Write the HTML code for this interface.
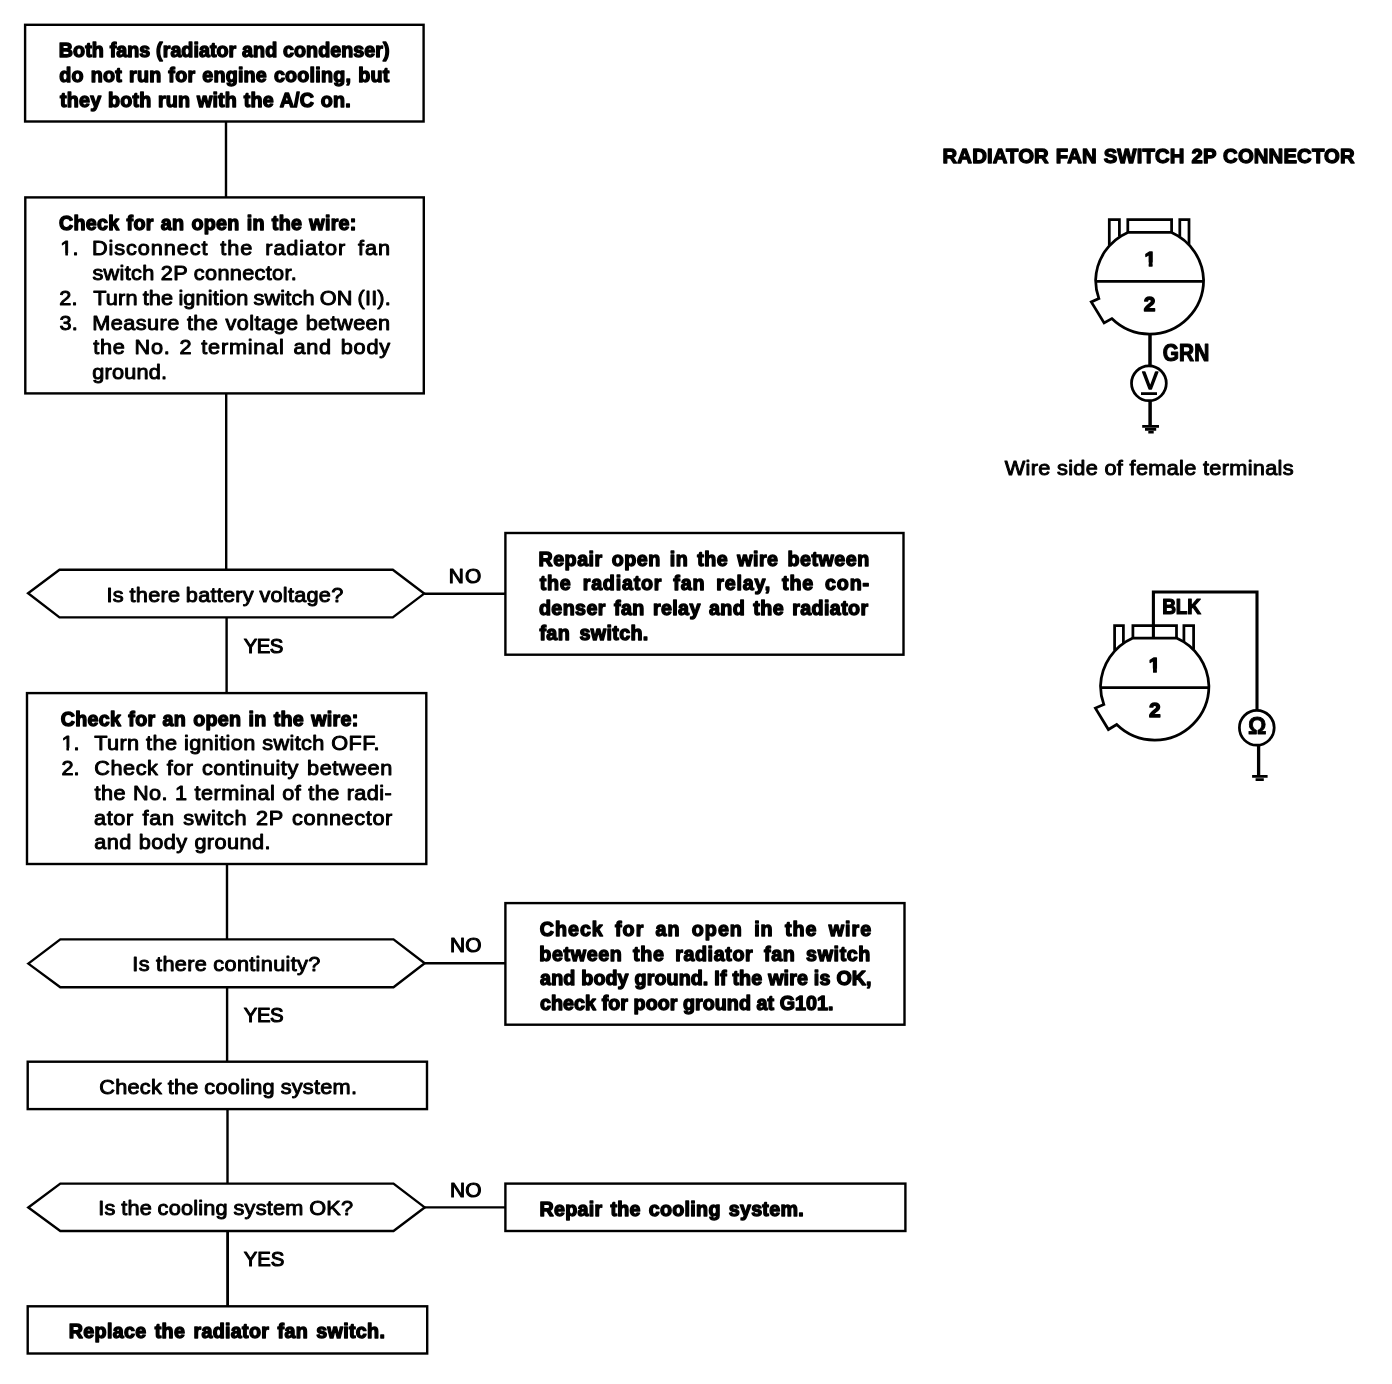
<!DOCTYPE html>
<html lang="en">
<head>
<meta charset="utf-8">
<title>Radiator fan switch troubleshooting flowchart</title>
<style>
html,body{margin:0;padding:0;background:#fff;}
body{width:1392px;height:1384px;overflow:hidden;}
svg{display:block;will-change:transform;}
text{font-family:"Liberation Sans", sans-serif;font-size:20.3px;fill:#000;stroke:#000;stroke-linejoin:round;white-space:pre;}
text.b{font-weight:bold;}
text.n{font-weight:normal;}
.s{fill:none;stroke:#000;stroke-width:2.4;stroke-linejoin:miter;}
</style>
</head>
<body>
<svg width="1392" height="1384" viewBox="0 0 1392 1384" role="img" aria-label="Radiator fan switch troubleshooting flowchart">
<rect x="0" y="0" width="1392" height="1384" fill="#fff"/>
<defs>
<clipPath id="c1b"><rect x="-3" y="-22" width="16" height="18.7"/><rect x="4.3" y="-8" width="3.75" height="9.5"/></clipPath>
<clipPath id="c1n"><rect x="-3" y="-22" width="16" height="19.6"/><rect x="4.8" y="-8" width="2.3" height="9.5"/><rect x="11.4" y="-5" width="12" height="8"/></clipPath>
</defs>
<g class="s">
<path d="M226 122V197M226.2 393V569M226.6 617V692M227 864V939M227.1 987V1061M227.5 1109V1183"/>
<path d="M227.6 1231V1306" style="stroke-width:2.8"/>
<rect x="25.1" y="24.8" width="398.5" height="96.7"/>
<rect x="25.3" y="197.4" width="398.5" height="196"/>
<path d="M28.1 593.3L59.5 569.8H392.8L424.2 593.6L392.8 617.4H59.5Z"/>
<path d="M424.2 593.7H505"/>
<rect x="27" y="693.1" width="399.3" height="170.9"/>
<path d="M28.3 963.6L60.3 939.4H393.5L424.7 963.3L393.5 987.2H60.3Z"/>
<path d="M424.7 963.3H505"/>
<rect x="27.7" y="1061.7" width="399.3" height="47.4"/>
<path d="M28.3 1207.5L60.3 1183.6H393.5L424.7 1207.4L393.5 1231H60.3Z"/>
<path d="M424.7 1207.4H505"/>
<rect x="27.7" y="1306.3" width="399.5" height="47.2"/>
<rect x="505.4" y="533" width="398.1" height="121.7"/>
<rect x="505.4" y="903.1" width="399.1" height="121.6"/>
<rect x="505.4" y="1183.6" width="400" height="47.4"/>
</g>
<g class="s" id="conn1" style="stroke-width:2.75">
<path d="M1109.3 245V219.6H1119.4V236.5"/>
<path d="M1179.8 236.5V219.6H1189V244.5"/>
<path d="M1127.8 232.4V219.6H1171.6V232.4"/>
<path d="M1127.8 232.4H1171.6A54 54 0 0 1 1203.6 280.1A54 54 0 0 1 1149.6 334.1A54 54 0 0 1 1111.8 318.6L1104.1 323.0L1091.3 301.9L1098.9 298.6A54 54 0 0 1 1095.6 280.1A54 54 0 0 1 1127.8 232.4Z"/>
<path d="M1095.6 281.4H1203.6"/>
<path d="M1150 334V366" style="stroke-width:3.5"/>
<circle cx="1148.9" cy="383.3" r="17.4"/>
<path d="M1141 393.6H1157"/>
<path d="M1150.1 400.7V426" style="stroke-width:3.5"/>
<path d="M1142.2 426.4H1159M1145 429.4H1156.2M1148.3 432.2H1153.7" style="stroke-width:2.6"/>
</g>
<g class="s" id="conn2" style="stroke-width:2.75">
<path d="M1114.6 650.5V625.6H1123.4V643"/>
<path d="M1183.9 642V625.6H1193.6V649.5"/>
<path d="M1132.9 638V625.6H1176.5V638"/>
<path d="M1132.9 638.0H1176.5A54.15 54.15 0 0 1 1208.9 685.9A54.15 54.15 0 0 1 1154.7 740.0A54.15 54.15 0 0 1 1116.7 724.5L1108.4 729.5L1095.4 708.1L1103.8 704.4A54.15 54.15 0 0 1 1100.5 685.9A54.15 54.15 0 0 1 1132.9 638.0Z"/>
<path d="M1100.6 687.5H1208.9"/>
<path d="M1153.4 638V592H1257V710" style="stroke-width:3.1"/>
<circle cx="1256.8" cy="727.8" r="17.4"/>
<path d="M1258.6 745.2V775" style="stroke-width:3.3"/>
<path d="M1252.1 776.4H1267.6M1255.6 779.6H1263.8" style="stroke-width:2.8"/>
</g>

<g>
<text class="b" transform="translate(58.85 57.10) scale(0.97 1)" style="stroke-width:1.4px;letter-spacing:0.041px;word-spacing:0.335px">Both fans (radiator and condenser)</text>
<text class="b" transform="translate(59.35 82.10) scale(0.97 1)" style="stroke-width:1.4px;letter-spacing:0.235px;word-spacing:1.293px">do not run for engine cooling, but</text>
<text class="b" transform="translate(60.10 106.80) scale(0.97 1)" style="stroke-width:1.4px;letter-spacing:0.204px;word-spacing:0.988px">they both run with the A/C on.</text>
<text class="b" transform="translate(58.95 230.45) scale(0.97 1)" style="stroke-width:1.4px;letter-spacing:0.292px;word-spacing:1.413px">Check for an open in the wire:</text>
<text class="n" clip-path="url(#c1n)" transform="translate(60.30 255.47) scale(1.07 1)" style="stroke-width:0.95px">1.</text>
<text class="n" transform="translate(91.95 255.47) scale(1.07 1)" style="stroke-width:0.95px;letter-spacing:0.844px;word-spacing:4.712px">Disconnect the radiator fan</text>
<text class="n" transform="translate(92.45 280.22) scale(1.07 1)" style="stroke-width:0.95px;letter-spacing:0.288px;word-spacing:-0.117px">switch 2P connector.</text>
<text class="n" transform="translate(59.30 304.92) scale(1.07 1)" style="stroke-width:0.95px">2.</text>
<text class="n" transform="translate(93.20 304.92) scale(1.07 1)" style="stroke-width:0.95px;letter-spacing:0.137px;word-spacing:-1.044px">Turn the ignition switch ON (II).</text>
<text class="n" transform="translate(59.55 329.52) scale(1.07 1)" style="stroke-width:0.95px">3.</text>
<text class="n" transform="translate(92.35 329.52) scale(1.07 1)" style="stroke-width:0.95px;letter-spacing:0.383px;word-spacing:0.717px">Measure the voltage between</text>
<text class="n" transform="translate(93.25 354.22) scale(1.07 1)" style="stroke-width:0.95px;letter-spacing:0.691px;word-spacing:2.033px">the No. 2 terminal and body</text>
<text class="n" transform="translate(92.30 378.62) scale(1.07 1)" style="stroke-width:0.95px;letter-spacing:0.179px">ground.</text>
<text class="n" transform="translate(106.60 602.32) scale(1.07 1)" style="stroke-width:0.95px;letter-spacing:0.221px;word-spacing:-0.631px">Is there battery voltage?</text>
<text class="n" transform="translate(243.70 652.55) scale(0.98 1)" style="stroke-width:1.1px;font-size:20.8px;letter-spacing:-0.510px">YES</text>
<text class="n" transform="translate(448.85 582.95) scale(1.03 1)" style="stroke-width:1.1px;letter-spacing:1.019px">NO</text>
<text class="b" transform="translate(60.75 725.50) scale(0.97 1)" style="stroke-width:1.4px;letter-spacing:0.294px;word-spacing:1.422px">Check for an open in the wire:</text>
<text class="n" clip-path="url(#c1n)" transform="translate(61.40 750.23) scale(1.07 1)" style="stroke-width:0.95px">1.</text>
<text class="n" transform="translate(94.20 750.23) scale(1.07 1)" style="stroke-width:0.95px;letter-spacing:0.332px;word-spacing:0.223px">Turn the ignition switch OFF.</text>
<text class="n" transform="translate(61.40 774.82) scale(1.07 1)" style="stroke-width:0.95px">2.</text>
<text class="n" transform="translate(94.30 774.82) scale(1.07 1)" style="stroke-width:0.95px;letter-spacing:0.481px;word-spacing:1.625px">Check for continuity between</text>
<text class="n" transform="translate(94.45 799.73) scale(1.07 1)" style="stroke-width:0.95px;letter-spacing:0.402px;word-spacing:0.512px">the No. 1 terminal of the radi-</text>
<text class="n" transform="translate(94.00 824.52) scale(1.07 1)" style="stroke-width:0.95px;letter-spacing:0.578px;word-spacing:1.879px">ator fan switch 2P connector</text>
<text class="n" transform="translate(94.30 848.92) scale(1.07 1)" style="stroke-width:0.95px;letter-spacing:0.371px;word-spacing:0.534px">and body ground.</text>
<text class="n" transform="translate(132.30 971.42) scale(1.07 1)" style="stroke-width:0.95px;letter-spacing:0.290px;word-spacing:-0.093px">Is there continuity?</text>
<text class="n" transform="translate(243.80 1022.45) scale(0.98 1)" style="stroke-width:1.1px;font-size:20.8px;letter-spacing:-0.510px">YES</text>
<text class="n" transform="translate(449.95 952.35) scale(1.03 1)" style="stroke-width:1.1px;letter-spacing:0.243px">NO</text>
<text class="n" transform="translate(99.20 1094.33) scale(1.07 1)" style="stroke-width:0.95px;letter-spacing:0.234px;word-spacing:-0.530px">Check the cooling system.</text>
<text class="n" transform="translate(98.20 1214.73) scale(1.07 1)" style="stroke-width:0.95px;letter-spacing:0.201px;word-spacing:-0.596px">Is the cooling system OK?</text>
<text class="n" transform="translate(243.80 1266.45) scale(0.98 1)" style="stroke-width:1.1px;font-size:20.8px;letter-spacing:-0.153px">YES</text>
<text class="n" transform="translate(449.95 1196.55) scale(1.03 1)" style="stroke-width:1.1px;letter-spacing:0.243px">NO</text>
<text class="b" transform="translate(68.75 1338.30) scale(0.97 1)" style="stroke-width:1.4px;letter-spacing:0.329px;word-spacing:2.552px">Replace the radiator fan switch.</text>
<text class="b" transform="translate(538.45 566.00) scale(0.97 1)" style="stroke-width:1.4px;letter-spacing:0.517px;word-spacing:3.103px">Repair open in the wire between</text>
<text class="b" transform="translate(539.70 590.40) scale(0.97 1)" style="stroke-width:1.4px;letter-spacing:0.809px;word-spacing:5.015px">the radiator fan relay, the con-</text>
<text class="b" transform="translate(538.95 615.00) scale(0.97 1)" style="stroke-width:1.4px;letter-spacing:0.388px;word-spacing:2.485px">denser fan relay and the radiator</text>
<text class="b" transform="translate(539.45 639.60) scale(0.97 1)" style="stroke-width:1.4px;letter-spacing:0.369px;word-spacing:3.686px">fan switch.</text>
<text class="b" transform="translate(539.65 935.90) scale(0.97 1)" style="stroke-width:1.4px;letter-spacing:1.050px;word-spacing:4.901px">Check for an open in the wire</text>
<text class="b" transform="translate(539.35 960.60) scale(0.97 1)" style="stroke-width:1.4px;letter-spacing:0.634px;word-spacing:4.755px">between the radiator fan switch</text>
<text class="b" transform="translate(540.10 985.30) scale(0.97 1)" style="stroke-width:1.4px;letter-spacing:0.086px;word-spacing:0.416px">and body ground. If the wire is OK,</text>
<text class="b" transform="translate(540.10 1009.90) scale(0.97 1)" style="stroke-width:1.4px;letter-spacing:0.025px;word-spacing:0.144px">check for poor ground at G101.</text>
<text class="b" transform="translate(539.55 1215.70) scale(0.97 1)" style="stroke-width:1.4px;letter-spacing:0.282px;word-spacing:2.354px">Repair the cooling system.</text>
<text class="b" transform="translate(942.55 162.65) scale(1 1)" style="stroke-width:1.3px;letter-spacing:0.146px;word-spacing:1.131px">RADIATOR FAN SWITCH 2P CONNECTOR</text>
<text class="n" transform="translate(1004.80 474.82) scale(1.07 1)" style="stroke-width:0.95px;letter-spacing:0.298px;word-spacing:-0.016px">Wire side of female terminals</text>
<text class="b" clip-path="url(#c1b)" transform="translate(1144.45 265.80) scale(1 1)" style="stroke-width:1.4px;font-size:20.5px">1</text>
<text class="b" transform="translate(1143.80 310.90) scale(1 1)" style="stroke-width:1.4px;font-size:21px">2</text>
<text class="b" transform="translate(1162.85 360.90) scale(0.9 1)" style="stroke-width:1.2px;font-size:23.2px;letter-spacing:0.028px">GRN</text>
<text class="n" transform="translate(1142.50 389.20) scale(1 1)" style="stroke-width:1.4px;font-size:23.2px">V</text>
<text class="b" transform="translate(1162.25 613.80) scale(0.89 1)" style="stroke-width:1.2px;font-size:21.5px;letter-spacing:-0.337px">BLK</text>
<text class="b" clip-path="url(#c1b)" transform="translate(1148.75 671.80) scale(1 1)" style="stroke-width:1.4px;font-size:20.5px">1</text>
<text class="b" transform="translate(1148.90 717.10) scale(1 1)" style="stroke-width:1.4px;font-size:21px">2</text>
<text class="b" transform="translate(1248.00 734.40) scale(1 1)" style="stroke-width:0.8px;font-size:23px;font-family:"Liberation Serif", serif">Ω</text>
</g>
</svg>
</body>
</html>
